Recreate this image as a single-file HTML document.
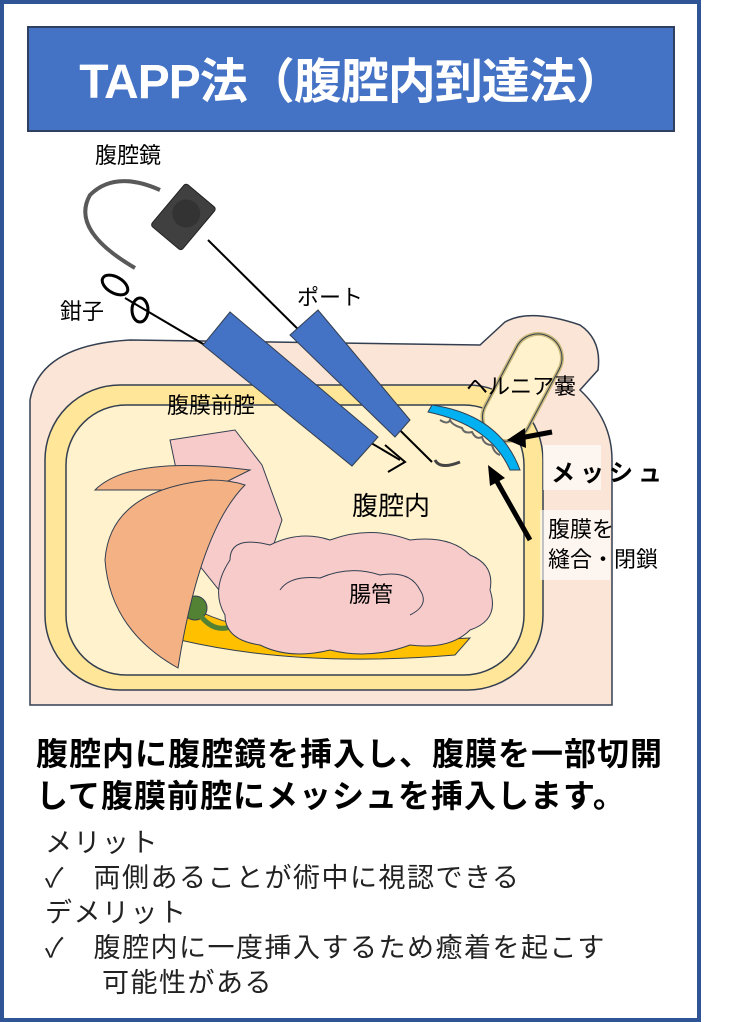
<!DOCTYPE html>
<html><head><meta charset="utf-8"><style>
body{margin:0;background:#fff;}
.w{position:relative;width:729px;height:1022px;overflow:hidden;font-family:"Liberation Sans","Noto Sans CJK JP",sans-serif;}
.t{position:absolute;white-space:nowrap;color:#000;}
</style></head><body><div class="w">
<div style="position:absolute;left:0;top:0;width:693px;height:1014px;border:4px solid #2f5597;"></div>
<div style="position:absolute;left:27px;top:26px;width:644px;height:102px;background:#4472c4;border:2px solid #2f3f60;"></div>
<div class="t" style="left:27px;top:42px;width:648px;text-align:center;color:#fff;font-weight:bold;font-size:48px;letter-spacing:-1px;">TAPP法（腹腔内到達法）</div>
<svg style="position:absolute;left:0;top:0" width="729" height="1022">
<path d="M30 400 Q40 345 130 340 L480 345 L505 322 Q530 308 580 325 Q602 340 598 370 L580 390 Q612 420 612 460 L612 705 L30 705 Z" fill="#fbe5d6" stroke="#333f50" stroke-width="1.5"/>
<rect x="45" y="385" width="498" height="305" rx="75" fill="#ffe699" stroke="#333f50" stroke-width="1.5"/>
<rect x="66" y="405" width="458" height="270" rx="60" fill="#fff2cc" stroke="#333f50" stroke-width="1.5"/>
<g transform="rotate(28 522 388)"><rect x="498" y="330" width="48" height="115" rx="24" fill="#fff2cc" stroke="#c9b87a" stroke-width="4"/><rect x="498" y="330" width="48" height="115" rx="24" fill="none" stroke="#333f50" stroke-width="1"/></g>
<polygon points="170,440 235,430 262,465 282,520 265,570 235,610 195,560" fill="#f8cbcb" stroke="#333f50"/>
<path d="M180 600 Q250 650 470 638 L455 655 Q300 668 180 640 Z" fill="#ffc000" stroke="#333f50"/>
<circle cx="195" cy="608" r="12" fill="#548235" stroke="#333f50"/>
<path d="M200 615 Q215 635 235 625" stroke="#548235" stroke-width="5" fill="none"/>
<path d="M95 490 Q130 455 250 470 L210 490 Z" fill="#f4b183" stroke="#333f50"/>
<path d="M105 560 Q110 490 210 480 Q230 480 245 485 Q200 530 178 668 Q110 630 105 560 Z" fill="#f4b183" stroke="#333f50"/>
<path d="M230 560 Q230 535 270 545 Q300 530 330 540 Q370 525 410 540 Q450 535 470 555 Q495 565 490 590 Q500 620 470 630 Q450 650 410 645 Q370 660 330 650 Q290 660 260 645 Q225 640 225 615 Q210 590 230 560 Z" fill="#f8cbcb" stroke="#333f50"/>
<path d="M280 590 Q290 575 320 578 Q350 565 380 575 Q410 570 420 590 Q430 605 410 615" fill="none" stroke="#333f50"/>
<path d="M432 405 Q500 415 520 470 L510 470 Q490 425 428 412 Z" fill="#00b0f0" stroke="#333f50"/>
<path d="M440 420 q8 5 10 0 q2 5 12 8 q2 6 10 4 q4 8 10 5 q2 8 10 8 q2 8 8 10" stroke="#666" stroke-width="2" fill="none"/>
<path d="M135 268 Q70 230 90 195 Q115 170 160 190" stroke="#595959" stroke-width="4" fill="none"/>
<g transform="rotate(40 185 215)"><rect x="165" y="190" width="40" height="55" rx="3" fill="#404040" stroke="#222"/><circle cx="185" cy="213" r="14" fill="#333"/></g>
<line x1="208" y1="240" x2="432" y2="462" stroke="#000" stroke-width="2"/>
<line x1="125" y1="298" x2="400" y2="460" stroke="#000" stroke-width="2"/>
<path d="M435 460 Q440 470 460 462" stroke="#444" stroke-width="3" fill="none"/>
<path d="M385 445 L405 462 L388 472" stroke="#000" stroke-width="2" fill="none"/>
<ellipse cx="115" cy="285" rx="14" ry="8" fill="none" stroke="#000" stroke-width="3" transform="rotate(30 115 285)"/>
<ellipse cx="140" cy="310" rx="8" ry="12" fill="none" stroke="#000" stroke-width="3"/>
<polygon points="230,312 203,345 352,466 378,437" fill="#4472c4" stroke="#333f50"/>
<polygon points="318,310 290,335 395,437 410,420" fill="#4472c4" stroke="#333f50"/>
<line x1="552" y1="432" x2="520" y2="438" stroke="#000" stroke-width="5"/>
<polygon points="507,440 525,428 526,448" fill="#000"/>
<line x1="530" y1="540" x2="495" y2="478" stroke="#000" stroke-width="5"/>
<polygon points="488,465 505,478 490,486" fill="#000"/>
<rect x="543" y="445" width="58" height="45" fill="#fff" fill-opacity="0.6"/>
<rect x="540" y="510" width="70" height="70" fill="#fff" fill-opacity="0.6"/>
</svg>
<div class="t" style="left:95px;top:138px;font-size:22px;">腹腔鏡</div>
<div class="t" style="left:60px;top:294px;font-size:22px;">鉗子</div>
<div class="t" style="left:297px;top:280px;font-size:22px;">ポート</div>
<div class="t" style="left:167px;top:388px;font-size:22px;">腹膜前腔</div>
<div class="t" style="left:466px;top:369px;font-size:22px;">ヘルニア嚢</div>
<div class="t" style="left:551px;top:453px;font-size:24px;font-weight:bold;letter-spacing:5px;">メッシュ</div>
<div class="t" style="left:352px;top:486px;font-size:26px;">腹腔内</div>
<div class="t" style="left:349px;top:577px;font-size:22px;">腸管</div>
<div class="t" style="left:548px;top:515px;font-size:22px;line-height:30px;">腹膜を<br>縫合・閉鎖</div>
<div class="t" style="left:36px;top:733px;font-size:32px;font-weight:bold;line-height:42px;letter-spacing:1px;">腹腔内に腹腔鏡を挿入し、腹膜を一部切開<br>して腹膜前腔にメッシュを挿入します。</div>
<div class="t" style="left:45px;top:826px;font-size:27px;line-height:35px;color:#222;letter-spacing:1.5px;">メリット<br>✓　両側あることが術中に視認できる<br>デメリット<br>✓　腹腔内に一度挿入するため癒着を起こす<br>　　可能性がある</div>
</div></body></html>
